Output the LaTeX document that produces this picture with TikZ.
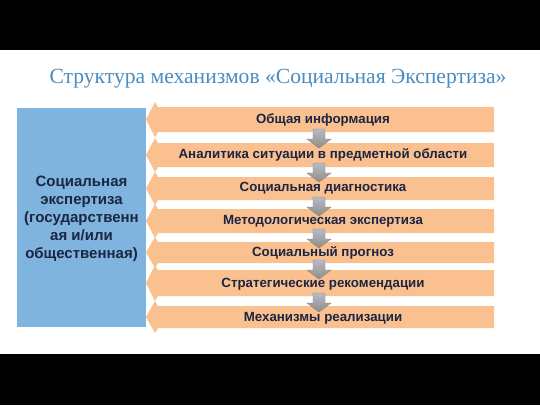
\documentclass[tikz,border=0pt]{standalone}
\usepackage{fontspec}
\setmainfont{Liberation Sans}
\newfontfamily\titlefont{Liberation Serif}
\definecolor{bandor}{RGB}{250,192,143}
\definecolor{leftbl}{RGB}{126,180,222}
\definecolor{navy}{RGB}{28,37,66}
\definecolor{titlebl}{RGB}{75,140,190}
\definecolor{arrtop}{RGB}{178,188,202}
\definecolor{arrbot}{RGB}{150,140,128}
\definecolor{arrline}{RGB}{130,130,130}
\begin{document}
\begin{tikzpicture}[x=1pt,y=-1pt,
  bandtext/.style={font=\bfseries\fontsize{13.3}{15}\selectfont, text=navy, anchor=center, inner sep=0pt},
  bandshape/.style={fill=bandor, draw=none},
  downarr/.style={top color=arrtop, bottom color=arrbot, draw=arrline, line width=0.4pt}]
\useasboundingbox (0,0) rectangle (540,405);
\fill[black] (0,0) rectangle (540,50);
\fill[black] (0,354) rectangle (540,405);
\node[font=\titlefont\fontsize{21.6}{26}\selectfont, text=titlebl, anchor=center] (title) at (278,79) {Структура механизмов «Социальная Экспертиза»};
\node[fill=leftbl, minimum width=129pt, minimum height=219pt, inner sep=0pt, anchor=north west] (leftbox) at (17,108) {};
\node[font=\bfseries\fontsize{15}{18.1}\selectfont, text=navy, align=center, anchor=center] (lefttext) at (81.5,219) {Социальная\\экспертиза\\(государственн\\ая и/или\\общественная)};
% bands: top, bottom
\foreach \t/\b [count=\i] in {107/132,143/167,177/200,209/233,242/263,270/296,306/328}{
  \pgfmathsetmacro{\m}{(\t+\b)/2}
  \fill[bandshape] (494,\t) -- (158,\t) -- (155,\t-5) -- (146,\m) -- (155,\b+5) -- (158,\b) -- (494,\b) -- cycle;
}
% gray down arrows
\foreach \s in {129,163,197,229,260,293}{
  \draw[downarr] (313,\s) -- (325,\s) -- (325,\s+10) -- (331,\s+10) -- (319,\s+19) -- (307,\s+10) -- (313,\s+10) -- cycle;
}
\node[bandtext] (b1) at (323,120) {Общая информация};
\node[bandtext] (b2) at (323,155) {Аналитика ситуации в предметной области};
\node[bandtext] (b3) at (323,188.5) {Социальная диагностика};
\node[bandtext] (b4) at (323,221.5) {Методологическая экспертиза};
\node[bandtext] (b5) at (323,253) {Социальный прогноз};
\node[bandtext] (b6) at (323,284) {Стратегические рекомендации};
\node[bandtext] (b7) at (323,318) {Механизмы реализации};
\end{tikzpicture}
\end{document}
